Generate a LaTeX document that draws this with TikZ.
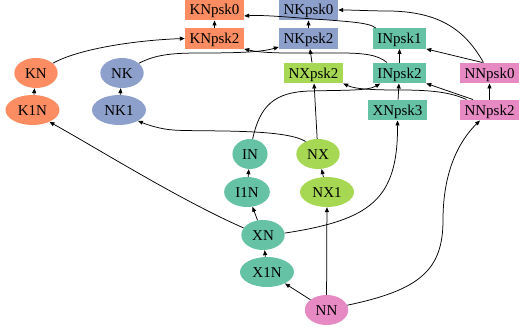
\documentclass[tikz,border=0pt]{standalone}
\usepackage{fontspec}
\setmainfont{Liberation Serif}
\usetikzlibrary{arrows.meta,shapes.geometric}
\definecolor{corange}{HTML}{FC8D62}
\definecolor{cblue}{HTML}{8DA0CB}
\definecolor{cgreen}{HTML}{66C2A5}
\definecolor{clime}{HTML}{A6D854}
\definecolor{cpink}{HTML}{E78AC3}
\begin{document}
\begin{tikzpicture}[x=1pt,y=-1pt,
  font=\fontsize{15pt}{18pt}\selectfont,
  box/.style={rectangle, draw=none, minimum height=20.5pt, inner xsep=4.5pt, inner ysep=0pt, text height=11pt, text depth=1pt},
  oval/.style={ellipse, draw=none, minimum height=30pt, inner xsep=4.5pt, inner ysep=0pt, text height=11pt, text depth=1pt},
  e/.style={draw, line width=0.75pt, -{Triangle[length=5pt,width=4pt]}}]
\useasboundingbox (0,0) rectangle (519,329);
% boxes
\node[box,fill=corange] (KNpsk0) at (214.5,10) {KNpsk0};
\node[box,fill=corange] (KNpsk2) at (214.5,38.5) {KNpsk2};
\node[box,fill=cblue] (NKpsk0) at (308.5,10) {NKpsk0};
\node[box,fill=cblue] (NKpsk2) at (308.5,38.5) {NKpsk2};
\node[box,fill=cgreen] (INpsk1) at (399.5,38.5) {INpsk1};
\node[box,fill=clime] (NXpsk2) at (313.5,73) {NXpsk2};
\node[box,fill=cgreen] (INpsk2) at (399.5,73) {INpsk2};
\node[box,fill=cpink] (NNpsk0) at (489.5,73) {NNpsk0};
\node[box,fill=cgreen] (XNpsk3) at (397.5,110) {XNpsk3};
\node[box,fill=cpink] (NNpsk2) at (489.5,110) {NNpsk2};
% ellipses
\node[oval,fill=corange] (KN) at (36,73) {KN};
\node[oval,fill=corange] (K1N) at (32.5,110) {K1N};
\node[oval,fill=cblue] (NK) at (122,73) {NK};
\node[oval,fill=cblue] (NK1) at (119,110) {NK1};
\node[oval,fill=cgreen] (IN) at (250,154) {IN};
\node[oval,fill=cgreen] (I1N) at (247,192) {I1N};
\node[oval,fill=clime] (NX) at (318,154) {NX};
\node[oval,fill=clime] (NX1) at (327,192) {NX1};
\node[oval,fill=cgreen] (XN) at (263,235) {XN};
\node[oval,fill=cgreen] (X1N) at (267,272) {X1N};
\node[oval,fill=cpink] (NN) at (326.5,310) {NN};
% straight edges
\draw[e] (KNpsk2) -- (KNpsk0);
\draw[e] (NKpsk2) -- (NKpsk0);
\draw[e] (INpsk2) -- (INpsk1);
\draw[e] (XNpsk3) -- (INpsk2);
\draw[e] (NNpsk2) -- (NNpsk0);
\draw[e] (K1N) -- (KN);
\draw[e] (NK1) -- (NK);
\draw[e] (I1N) -- (IN);
\draw[e] (NX1) -- (NX);
\draw[e] (X1N) -- (XN);
\draw[e] (XN) -- (I1N);
\draw[e] (NN) -- (X1N);
\draw[e] (NN) -- (NX1);
\draw[e] (NX) -- (NXpsk2);
\draw[e] (NXpsk2) -- (NKpsk2);
\draw[e] ([xshift=-7pt]NNpsk0.north) -- (INpsk1.south east);
\draw[e] ([xshift=-16.5pt]NNpsk2.north) -- (INpsk2.south east);
% curved edges
\draw[e] (KN.30) .. controls (80,48) and (140,40) .. (KNpsk2.west);
\draw[e] (NK.30) .. controls (155,55) and (170,53) .. (200,53) .. controls (240,53) and (262,52) .. ([yshift=2pt]NKpsk2.south west);
\draw[e] ([xshift=-12.5pt]INpsk2.north) .. controls (378,55) and (365,53) .. (340,53) .. controls (300,53) and (265,54) .. (KNpsk2.south east);
\draw[e] ([xshift=3pt]INpsk1.north west) .. controls (370,22) and (340,21) .. (300,18) .. controls (275,16) and (258,15) .. ([yshift=-6pt]KNpsk0.east);
\draw[e] ([xshift=-6pt]NNpsk0.north) .. controls (465,30) and (440,12) .. (390,11) .. controls (370,11) and (355,10) .. (NKpsk0.east);
\draw[e] ([xshift=-23pt]NNpsk2.north) .. controls (450,92) and (430,90) .. (400,90) .. controls (370,90) and (355,89) .. (NXpsk2.south east);
\draw[e] (IN.80) .. controls (260,105) and (275,92) .. (310,91) .. controls (345,90) and (368,91) .. ([xshift=7.5pt]INpsk2.south west);
\draw[e] (NX.135) .. controls (285,128) and (200,132) .. (173,130) .. controls (160,129) and (148,125) .. (NK1.-30);
\draw[e] (XN.160) .. controls (180,200) and (100,150) .. (K1N.-35);
\draw[e] (XN.5) .. controls (370,220) and (398,200) .. (XNpsk3.south);
\draw[e] (NN.13) .. controls (420,290) and (443,270) .. (443,220) .. controls (443,170) and (460,140) .. ([xshift=-9.5pt]NNpsk2.south);
\end{tikzpicture}
\end{document}
